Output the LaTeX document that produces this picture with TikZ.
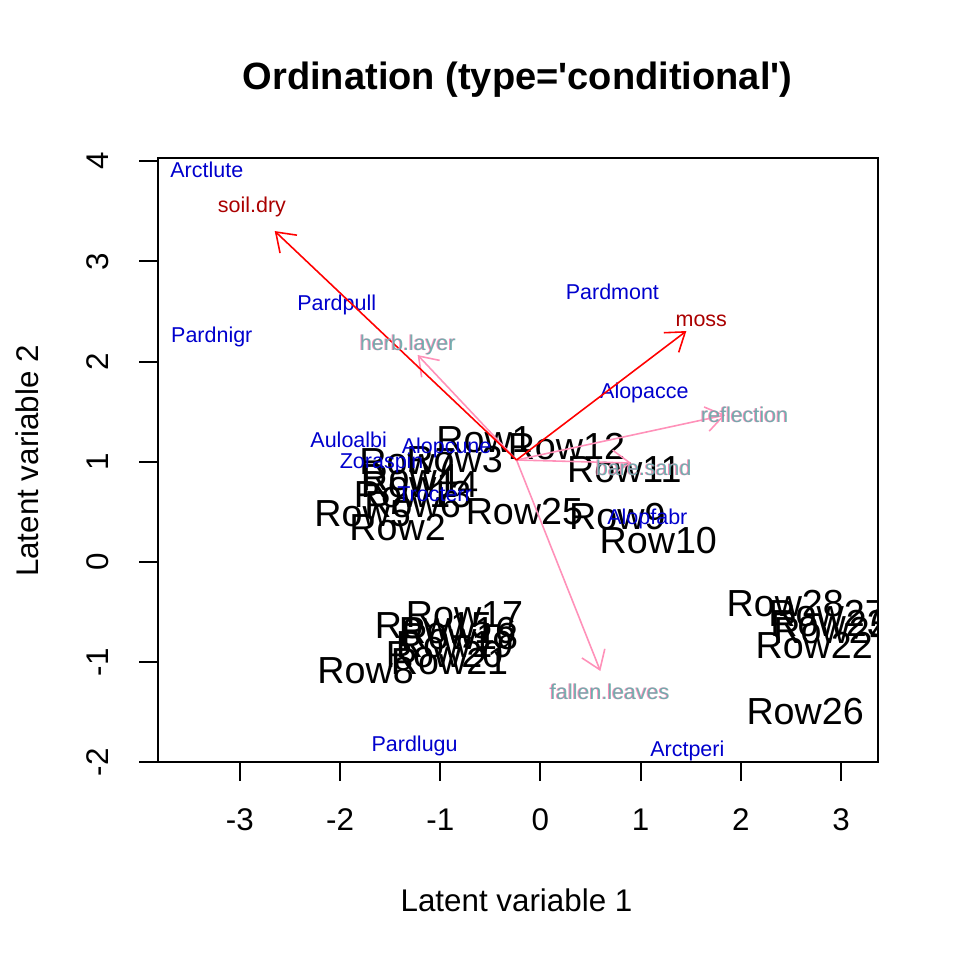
\documentclass[tikz,border=0pt]{standalone}
\usepackage{fontspec}
\setmainfont{Liberation Sans}
\usetikzlibrary{arrows.meta}

\definecolor{specblue}{RGB}{0,0,205}
\definecolor{envred}{RGB}{255,0,0}
\definecolor{envlabred}{RGB}{170,0,0}
\definecolor{envpink}{RGB}{255,145,185}
\definecolor{envteal}{RGB}{95,170,170}

\tikzset{
	rowlab/.style={inner sep=0pt, font=\fontsize{10.7}{12}\selectfont},
	speclab/.style={inner sep=0pt, text=specblue, font=\fontsize{6.1}{7}\selectfont},
	envlab/.style={inner sep=0pt, font=\fontsize{6.1}{7}\selectfont},
	axislab/.style={inner sep=0pt, font=\fontsize{8.9}{10}\selectfont},
	redarrow/.style={draw=envred, line width=0.45pt, -{Straight Barb[length=5pt, width=7pt]}},
	pinkarrow/.style={draw=envpink, line width=0.45pt, -{Straight Barb[length=5pt, width=7pt]}}
}

\begin{document}
\begin{tikzpicture}[x=1cm, y=1cm]
		\useasboundingbox (-5.394,-3.972) rectangle (4.177,5.609);
		% plot region
		\coordinate (bl) at (-3.82,-2.0);
		\coordinate (tr) at (3.37,4.03);
		\draw[line width=0.55pt] (bl) rectangle (tr);
		% title and axis labels
		\node[inner sep=0pt, font=\fontsize{10.8}{12}\selectfont\bfseries] (title) at (-0.229,4.81) {Ordination (type=\textquotesingle conditional\textquotesingle)};
		\node[axislab] (xlab) at (-0.239,-3.373) {Latent variable 1};
		\node[axislab, rotate=90] (ylab) at (-5.125,1.008) {Latent variable 2};
		% x axis
		\draw[line width=0.55pt] (-3,-2.0) -- (-3,-2.19) node[axislab, below=0.26cm] (xt1) {-3};
		\draw[line width=0.55pt] (-2,-2.0) -- (-2,-2.19) node[axislab, below=0.26cm] (xt2) {-2};
		\draw[line width=0.55pt] (-1,-2.0) -- (-1,-2.19) node[axislab, below=0.26cm] (xt3) {-1};
		\draw[line width=0.55pt] (0,-2.0) -- (0,-2.19) node[axislab, below=0.26cm] (xt4) {0};
		\draw[line width=0.55pt] (1,-2.0) -- (1,-2.19) node[axislab, below=0.26cm] (xt5) {1};
		\draw[line width=0.55pt] (2,-2.0) -- (2,-2.19) node[axislab, below=0.26cm] (xt6) {2};
		\draw[line width=0.55pt] (3,-2.0) -- (3,-2.19) node[axislab, below=0.26cm] (xt7) {3};
		% y axis
		\draw[line width=0.55pt] (-3.82,-2) -- (-4.01,-2) node[axislab, rotate=90, anchor=center] (yt1) at (-4.417,-2) {-2};
		\draw[line width=0.55pt] (-3.82,-1) -- (-4.01,-1) node[axislab, rotate=90, anchor=center] (yt2) at (-4.417,-1) {-1};
		\draw[line width=0.55pt] (-3.82,0) -- (-4.01,0) node[axislab, rotate=90, anchor=center] (yt3) at (-4.417,0) {0};
		\draw[line width=0.55pt] (-3.82,1) -- (-4.01,1) node[axislab, rotate=90, anchor=center] (yt4) at (-4.417,1) {1};
		\draw[line width=0.55pt] (-3.82,2) -- (-4.01,2) node[axislab, rotate=90, anchor=center] (yt5) at (-4.417,2) {2};
		\draw[line width=0.55pt] (-3.82,3) -- (-4.01,3) node[axislab, rotate=90, anchor=center] (yt6) at (-4.417,3) {3};
		\draw[line width=0.55pt] (-3.82,4) -- (-4.01,4) node[axislab, rotate=90, anchor=center] (yt7) at (-4.417,4) {4};
		\begin{scope}
			\clip (bl) rectangle (tr);
			% sites
			\node[rowlab] (r1) at (-0.558,1.218) {Row1};
			\node[rowlab] (r2) at (-1.426,0.349) {Row2};
			\node[rowlab] (r3) at (-0.857,1.018) {Row3};
			\node[rowlab] (r4) at (-1.306,0.838) {Row4};
			\node[rowlab] (r5) at (-1.775,0.479) {Row5};
			\node[rowlab] (r6) at (-1.276,0.569) {Row6};
			\node[rowlab] (r7) at (-1.326,0.998) {Row7};
			\node[rowlab] (r8) at (-1.745,-1.078) {Row8};
			\node[rowlab] (r9) at (0.768,0.449) {Row9};
			\node[rowlab] (r10) at (1.176,0.21) {Row10};
			\node[rowlab] (r11) at (0.837,0.918) {Row11};
			\node[rowlab] (r12) at (0.259,1.148) {Row12};
			\node[rowlab] (r13) at (-1.276,0.669) {Row13};
			\node[rowlab] (r14) at (-1.206,0.768) {Row14};
			\node[rowlab] (r15) at (-1.067,-0.639) {Row15};
			\node[rowlab] (r16) at (-0.828,-0.679) {Row16};
			\node[rowlab] (r17) at (-0.758,-0.529) {Row17};
			\node[rowlab] (r18) at (-0.808,-0.739) {Row18};
			\node[rowlab] (r19) at (-0.857,-0.828) {Row19};
			\node[rowlab] (r20) at (-0.957,-0.928) {Row20};
			\node[rowlab] (r21) at (-0.907,-0.998) {Row21};
			\node[rowlab] (r22) at (2.732,-0.838) {Row22};
			\node[rowlab] (r23) at (2.881,-0.609) {Row23};
			\node[rowlab] (r24) at (2.911,-0.679) {Row24};
			\node[rowlab] (r25) at (-0.16,0.499) {Row25};
			\node[rowlab] (r26) at (2.642,-1.497) {Row26};
			\node[rowlab] (r27) at (2.861,-0.519) {Row27};
			\node[rowlab] (r28) at (2.443,-0.419) {Row28};
			% species
			\node[speclab] (arctlute) at (-3.33,3.912) {Arctlute};
			\node[speclab] (pardpull) at (-2.034,2.565) {Pardpull};
			\node[speclab] (pardnigr) at (-3.28,2.246) {Pardnigr};
			\node[speclab] (pardmont) at (0.718,2.695) {Pardmont};
			\node[speclab] (alopacce) at (1.037,1.687) {Alopacce};
			\node[speclab] (auloalbi) at (-1.914,1.218) {Auloalbi};
			\node[speclab] (alopcune) at (-0.937,1.138) {Alopcune};
			\node[speclab] (zoraspin) at (-1.585,0.988) {Zoraspin};
			\node[speclab] (trocterr) at (-1.057,0.679) {Trocterr};
			\node[speclab] (alopfabr) at (1.067,0.429) {Alopfabr};
			\node[speclab] (pardlugu) at (-1.256,-1.836) {Pardlugu};
			\node[speclab] (arctperi) at (1.466,-1.886) {Arctperi};
			% environmental arrows
			\coordinate (orig) at (-0.239,1.018);
			\coordinate (soiltip) at (-2.652,3.303);
			\coordinate (mosstip) at (1.456,2.305);
			\coordinate (herbtip) at (-1.226,2.066);
			\coordinate (refltip) at (1.844,1.467);
			\coordinate (baretip) at (0.907,0.988);
			\coordinate (falltip) at (0.598,-1.088);
			\draw[pinkarrow] (orig) -- (herbtip);
			\draw[pinkarrow] (orig) -- (refltip);
			\draw[pinkarrow] (orig) -- (baretip);
			\draw[pinkarrow] (orig) -- (falltip);
			\draw[redarrow] (orig) -- (soiltip);
			\draw[redarrow] (orig) -- (mosstip);
			\node[envlab, text=envlabred] (soil) at (-2.88,3.543) {soil.dry};
			\node[envlab, text=envlabred] (moss) at (1.605,2.405) {moss};
			\node[envlab, text=envpink] (herb0) at (-1.332,2.166) {herb.layer};
			\node[envlab, text=envteal, opacity=0.85] (herb) at (-1.322,2.166) {herb.layer};
			\node[envlab, text=envpink] (refl0) at (2.029,1.467) {reflection};
			\node[envlab, text=envteal, opacity=0.85] (refl) at (2.039,1.467) {reflection};
			\node[envlab, text=envpink] (bare0) at (1.022,0.938) {bare.sand};
			\node[envlab, text=envteal, opacity=0.85] (bare) at (1.032,0.938) {bare.sand};
			\node[envlab, text=envpink] (fall0) at (0.683,-1.297) {fallen.leaves};
			\node[envlab, text=envteal, opacity=0.85] (fall) at (0.693,-1.297) {fallen.leaves};
		\end{scope}
	\end{tikzpicture}
\end{document}
